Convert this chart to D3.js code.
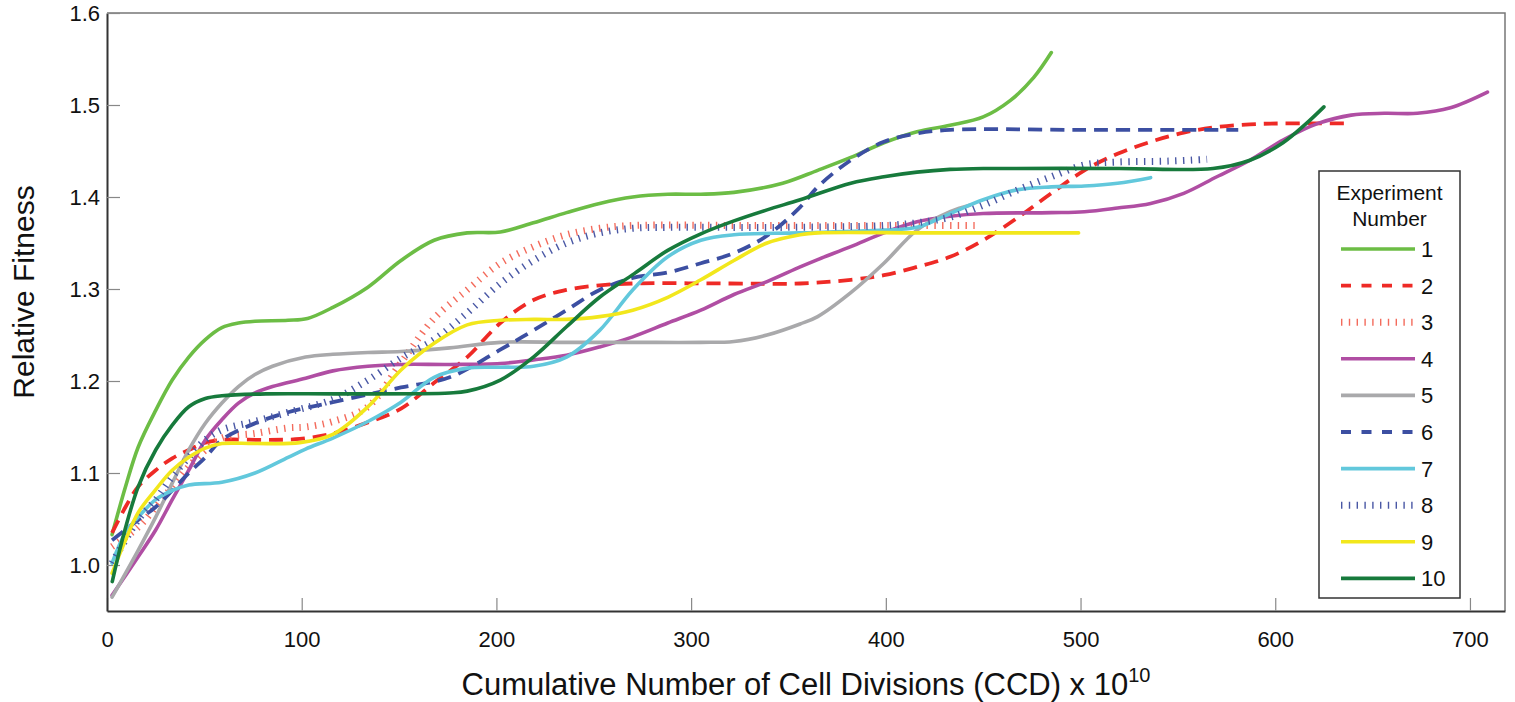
<!DOCTYPE html>
<html>
<head>
<meta charset="utf-8">
<script src="https://d3js.org/d3.v7.min.js"></script>
<style>
  body { margin: 0; background: #fff; }
  text { font-family: "Liberation Sans", Arial, Helvetica, sans-serif; fill: #111; }
</style>
</head>
<body>
<div id="chart"></div>
<script>
const width = 1515;
const height = 702;
const margin = { top: 13, right: 10, bottom: 91, left: 107 };

// x ticks and y ticks
const xTicks = [0, 100, 200, 300, 400, 500, 600, 700];
const yTicks = [1.0, 1.1, 1.2, 1.3, 1.4, 1.5, 1.6];

const expNames = ["1", "2", "3", "4", "5", "6", "7", "8", "9", "10"];
const expColors = ["#6cbd45", "#ee2a26", "#f36b5c", "#b04ea3", "#a9a9ab", "#3c4fa2", "#62c8dc", "#4a58a5", "#f2e71c", "#177a3c"];
const expStyles = ["solid", "dash", "dot", "solid", "solid", "dash", "solid", "dot", "solid", "solid"];

// [CCD, fitness]
const exp1 = [[2.6,1.033],[9.5,1.085],[16,1.128],[25,1.168],[33.5,1.201],[42,1.226],[50.5,1.245],[59,1.258],[67.5,1.263],[76,1.265],[93,1.266],[103,1.268],[116,1.280],[134,1.302],[151,1.331],[168,1.353],[185,1.361],[202,1.362],[219,1.372],[236,1.383],[253,1.393],[270,1.400],[288,1.403],[305,1.403],[322,1.405],[347,1.415],[365,1.429],[382,1.443],[399,1.459],[416,1.471],[433,1.478],[450,1.487],[464,1.505],[476,1.530],[485,1.557]];
const exp2 = [[2.6,1.035],[9.5,1.063],[16,1.085],[25,1.103],[33.5,1.116],[42,1.125],[50.5,1.133],[59,1.136],[82,1.136],[99,1.137],[116,1.143],[134,1.155],[151,1.170],[168,1.198],[185,1.226],[202,1.263],[219,1.288],[236,1.299],[253,1.304],[270,1.306],[320,1.306],[356,1.306],[382,1.310],[399,1.315],[416,1.324],[433,1.335],[450,1.353],[468,1.378],[485,1.404],[502,1.429],[519,1.447],[536,1.460],[553,1.470],[570,1.476],[587,1.479],[604,1.480],[636,1.480]];
const exp3 = [[2.6,1.020],[16,1.041],[25,1.063],[33.5,1.085],[42,1.107],[50.5,1.125],[59,1.138],[76,1.143],[93,1.149],[102,1.150],[116,1.156],[134,1.172],[151,1.220],[168,1.268],[185,1.299],[202,1.328],[219,1.346],[236,1.359],[253,1.366],[270,1.369],[330,1.369],[400,1.369],[446,1.369]];
const exp4 = [[2.6,0.967],[16,1.009],[25,1.038],[33.5,1.071],[42,1.103],[50.5,1.136],[59,1.158],[67.5,1.176],[76,1.187],[85,1.194],[102,1.203],[116,1.211],[134,1.216],[151,1.218],[176,1.218],[202,1.219],[219,1.223],[236,1.228],[253,1.237],[270,1.248],[288,1.263],[305,1.277],[322,1.294],[339,1.308],[356,1.324],[365,1.332],[382,1.346],[399,1.361],[416,1.373],[433,1.379],[450,1.382],[485,1.383],[502,1.384],[519,1.388],[536,1.393],[553,1.404],[570,1.422],[587,1.440],[604,1.462],[622,1.480],[639,1.489],[656,1.491],[673,1.491],[690,1.497],[709,1.514]];
const exp5 = [[2.6,0.965],[16,1.016],[25,1.052],[33.5,1.089],[42,1.125],[50.5,1.154],[59,1.176],[67.5,1.194],[76,1.207],[85,1.216],[102,1.226],[116,1.229],[134,1.231],[151,1.232],[176,1.236],[202,1.242],[236,1.242],[270,1.242],[305,1.242],[322,1.243],[339,1.250],[356,1.262],[365,1.270],[382,1.296],[399,1.328],[416,1.364],[433,1.384],[443,1.391]];
const exp6 = [[2.6,1.027],[16,1.049],[25,1.063],[33.5,1.081],[42,1.100],[50.5,1.117],[59,1.136],[76,1.154],[93,1.166],[116,1.177],[151,1.193],[176,1.204],[202,1.234],[219,1.255],[236,1.277],[253,1.299],[270,1.312],[288,1.318],[305,1.328],[322,1.339],[339,1.358],[356,1.389],[365,1.411],[382,1.440],[399,1.460],[416,1.469],[433,1.473],[500,1.473],[581,1.473]];
const exp7 = [[2.6,1.002],[9.5,1.035],[16,1.052],[25,1.071],[33.5,1.081],[42,1.087],[59,1.090],[76,1.100],[93,1.117],[102,1.126],[116,1.138],[134,1.156],[151,1.177],[168,1.204],[185,1.214],[202,1.215],[219,1.216],[236,1.226],[253,1.255],[270,1.299],[288,1.335],[305,1.353],[322,1.359],[356,1.361],[399,1.364],[416,1.367],[433,1.382],[450,1.397],[468,1.408],[485,1.411],[502,1.412],[519,1.415],[536,1.421]];
const exp8 = [[2.6,1.002],[16,1.049],[25,1.071],[33.5,1.096],[42,1.117],[50.5,1.136],[59,1.147],[76,1.156],[93,1.166],[116,1.180],[134,1.201],[151,1.225],[168,1.245],[185,1.274],[202,1.306],[219,1.331],[236,1.350],[253,1.361],[270,1.366],[288,1.367],[350,1.367],[399,1.369],[416,1.372],[433,1.378],[450,1.391],[468,1.408],[485,1.422],[502,1.435],[519,1.438],[545,1.439],[565,1.441]];
const exp9 = [[2.6,0.991],[9.5,1.027],[16,1.057],[25,1.082],[33.5,1.103],[42,1.117],[50.5,1.127],[59,1.132],[76,1.132],[99,1.133],[116,1.142],[134,1.172],[151,1.212],[168,1.241],[185,1.261],[202,1.266],[219,1.267],[236,1.267],[253,1.270],[270,1.277],[288,1.291],[305,1.310],[322,1.331],[339,1.350],[356,1.359],[365,1.361],[420,1.361],[499,1.361]];
const exp10 = [[2.7,0.982],[7.8,1.027],[16,1.085],[25,1.125],[33.5,1.152],[42,1.172],[50.5,1.181],[59,1.184],[82,1.186],[120,1.186],[176,1.187],[185,1.189],[202,1.201],[219,1.226],[236,1.259],[253,1.291],[271,1.317],[288,1.342],[305,1.360],[322,1.374],[339,1.386],[356,1.397],[382,1.415],[399,1.422],[416,1.427],[433,1.430],[450,1.431],[520,1.431],[568,1.431],[587,1.440],[604,1.459],[616,1.480],[625,1.498]];

const allExps = [exp1, exp2, exp3, exp4, exp5, exp6, exp7, exp8, exp9, exp10];

const svg = d3.select("#chart").append("svg")
    .attr("width", width)
    .attr("height", height);

const x = d3.scaleLinear().domain([0, 718]).range([margin.left, width - margin.right]);
const y = d3.scaleLinear().domain([0.95, 1.6]).range([height - margin.bottom, margin.top]);

const x0 = x.range()[0], x1 = x.range()[1];
const y0 = y.range()[0], y1 = y.range()[1];

svg.append("clipPath").attr("id", "plot-clip")
  .append("rect")
    .attr("x", x0).attr("y", y1)
    .attr("width", x1 - x0).attr("height", y0 - y1);

// top + right frame (lighter)
svg.append("path")
    .attr("d", "M" + x0 + "," + y1 + "H" + x1 + "V" + y0)
    .attr("fill", "none")
    .attr("stroke", "#777")
    .attr("stroke-width", 1.5);

// ticks pointing inward
const xAxis = svg.append("g")
    .attr("transform", "translate(0," + y0 + ")")
    .call(d3.axisBottom(x).tickValues(xTicks).tickSizeInner(-13).tickSizeOuter(0).tickPadding(20).tickFormat(d3.format("d")));
const yAxis = svg.append("g")
    .attr("transform", "translate(" + x0 + ",0)")
    .call(d3.axisLeft(y).tickValues(yTicks).tickSizeInner(-13).tickSizeOuter(0).tickPadding(7).tickFormat(d3.format(".1f")));

[xAxis, yAxis].forEach(function (g) {
    g.select(".domain").attr("stroke", "#333").attr("stroke-width", 2);
    g.selectAll(".tick line").attr("stroke", "#888").attr("stroke-width", 1.2);
    g.selectAll(".tick text")
        .style("font-family", '"Liberation Sans", Arial, sans-serif')
        .style("font-size", "22px")
        .attr("fill", "#111");
});
yAxis.selectAll(".tick text").attr("dy", "0.35em");

function styleLine(sel, i, where) {
    sel.attr("fill", "none").attr("stroke", expColors[i]);
    if (expStyles[i] === "dash") {
        sel.attr("stroke-width", 3.8).attr("stroke-dasharray", where === "legend" ? "10,10.5" : "14,8");
    } else if (expStyles[i] === "dot") {
        sel.attr("stroke-width", 7).attr("stroke-dasharray", "1.4,6.4");
    } else {
        sel.attr("stroke-width", 3.6).attr("stroke-linecap", "round");
    }
}

const line = d3.line()
    .x(function (d) { return x(d[0]); })
    .y(function (d) { return y(d[1]); })
    .curve(d3.curveCatmullRom.alpha(0.5));

const lines = svg.append("g").attr("clip-path", "url(#plot-clip)");
allExps.forEach(function (pts, i) {
    lines.append("path")
        .datum(pts)
        .attr("d", line)
        .call(styleLine, i, "plot");
});

// axis titles
svg.append("text")
    .attr("transform", "translate(34,292) rotate(-90)")
    .attr("text-anchor", "middle")
    .style("font-size", "30px")
    .text("Relative Fitness");

const xt = svg.append("text")
    .attr("x", 806)
    .attr("y", 695)
    .attr("text-anchor", "middle")
    .style("font-size", "31px")
    .text("Cumulative Number of Cell Divisions (CCD) x 10");
xt.append("tspan")
    .attr("dy", -13)
    .style("font-size", "20px")
    .text("10");

// legend
const legend = svg.append("g").attr("transform", "translate(1319,171)");
legend.append("rect")
    .attr("width", 141).attr("height", 427)
    .attr("fill", "#fff")
    .attr("stroke", "#333")
    .attr("stroke-width", 1.5);
legend.append("text").attr("x", 70.5).attr("y", 29).attr("text-anchor", "middle")
    .style("font-size", "21px").text("Experiment");
legend.append("text").attr("x", 70.5).attr("y", 55).attr("text-anchor", "middle")
    .style("font-size", "21px").text("Number");

expNames.forEach(function (name, i) {
    const ly = 78 + i * 36.6;
    legend.append("line")
        .attr("x1", 22).attr("x2", 96)
        .attr("y1", ly).attr("y2", ly)
        .call(styleLine, i, "legend")
        .attr("stroke-linecap", "butt");
    legend.append("text")
        .attr("x", 102).attr("y", ly).attr("dy", "0.36em")
        .style("font-size", "22px")
        .text(name);
});
</script>
</body>
</html>
